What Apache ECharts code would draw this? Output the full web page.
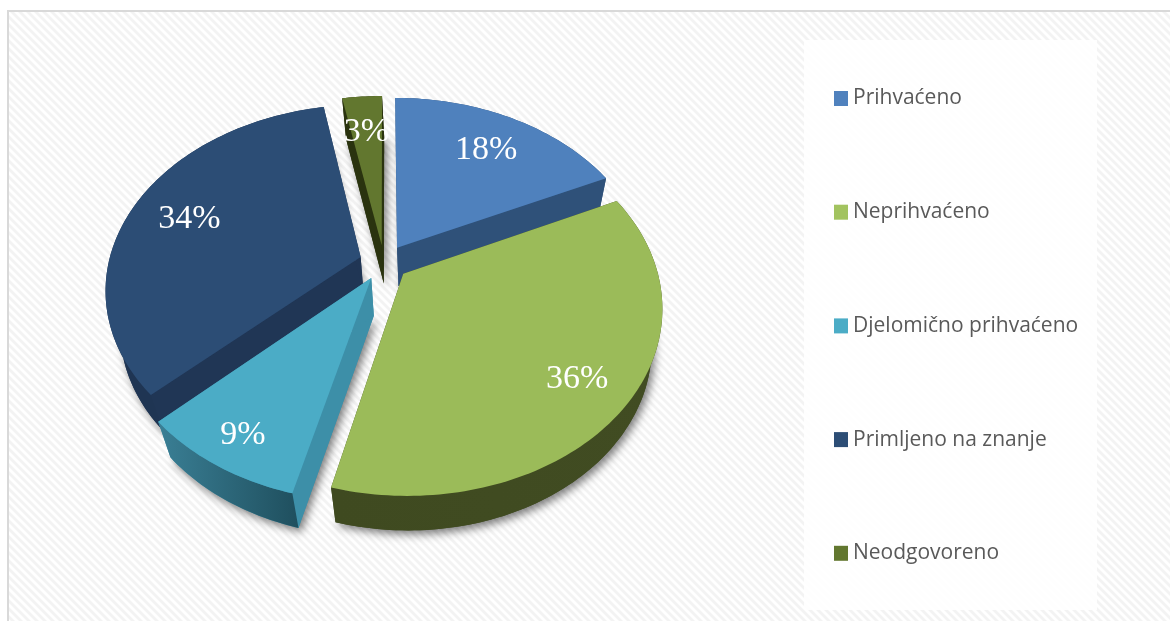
<!DOCTYPE html>
<html>
<head>
<meta charset="utf-8">
<style>html,body{margin:0;padding:0;background:#fff}#c{width:1170px;height:621px}</style>
<script src="https://cdn.jsdelivr.net/npm/echarts@6/dist/echarts.min.js"></script>
</head>
<body>
<div id="c"></div>
<script>
const categories = ['Prihvaćeno', 'Neprihvaćeno', 'Djelomično prihvaćeno', 'Primljeno na znanje', 'Neodgovoreno'];
const values = [18, 36, 9, 34, 3];
const topColors = ['#4f81bd', '#9bbb59', '#4bacc6', '#2c4d75', '#62772f'];
const legendColors = ['#4f81bd', '#a2c35f', '#4bacc6', '#2c4d75', '#62772f'];
const cutColors = ['#2f5179', '#3f4a20', '#3d8fa8', '#203655', '#2a330f'];
const rimColorsA = ['#2f5179', '#3f4a20', '#3a7f95', '#1f3553', '#2a330f'];
const rimColorsB = ['#2f5179', '#414c22', '#1f4f5e', '#1f3553', '#2a330f'];
const labelReach = [0.75, 0.8, 0.85, 0.75, 0.75];
const paintOrder = [4, 0, 3, 2, 1];

const view = {cx: 384, cy: 262.5, bx: 252, ay: 180, p: 0.17, explode: 0.098, depth: 38, sx: 0.955, sy: 0.985, lowShift: 2, labelDrop: 2};
const total = values.reduce((a, b) => a + b, 0);
const starts = [];
values.reduce((acc, v, i) => { starts[i] = acc; return acc + v; }, 0);

function rad(i, f) { return (starts[i] + f * values[i]) / total * Math.PI * 2; }
function project(i, r, a) {
  const m = rad(i, 0.5);
  const u = r * Math.sin(a) + view.explode * Math.sin(m);
  const v = r * Math.cos(a) + view.explode * Math.cos(m);
  const k = 1 + view.p * v;
  return [view.cx + view.bx * u / k, view.cy - view.ay * v / k];
}
function lower(pt) {
  return [view.cx + view.lowShift + (pt[0] - view.cx) * view.sx, view.cy + view.depth + (pt[1] - view.cy) * view.sy];
}
function rim(i) {
  const n = Math.max(12, Math.round(values[i] * 3)), out = [];
  for (let j = 0; j <= n; j++) out.push(project(i, 1, rad(i, j / n)));
  return out;
}
function sliceItem(i) {
  const apex = project(i, 0, 0), arc = rim(i);
  const low = arc.map(lower), lowApex = lower(apex);
  const poly = (points, style) => ({type: 'polygon', shape: {points}, style});
  const children = [];
  children.push(poly([lowApex].concat(low), {fill: cutColors[i], shadowBlur: 9, shadowOffsetX: 3, shadowOffsetY: 4, shadowColor: 'rgba(0,0,0,0.5)'}));
  children.push(poly([apex, arc[0], low[0], lowApex], {fill: cutColors[i]}));
  children.push(poly([apex, arc[arc.length - 1], low[low.length - 1], lowApex], {fill: cutColors[i]}));
  children.push(poly(arc.concat(low.slice().reverse()), {fill: {type: 'linear', x: 0, y: 0, x2: 1, y2: 0, colorStops: [{offset: 0, color: rimColorsA[i]}, {offset: 1, color: rimColorsB[i]}]}}));
  children.push(poly([apex].concat(arc), {fill: topColors[i]}));
  const lp = project(i, labelReach[i], rad(i, 0.5));
  children.push({type: 'text', z2: 100, style: {text: values[i] + '%', x: lp[0], y: lp[1] + view.labelDrop, align: 'center', verticalAlign: 'middle', fill: '#fff', font: '34px "Liberation Serif", serif'}});
  return {type: 'group', children};
}

const tile = document.createElement('canvas');
tile.width = tile.height = 8;
(function () {
  const g = tile.getContext('2d');
  g.fillStyle = '#ffffff'; g.fillRect(0, 0, 8, 8);
  g.strokeStyle = '#f3f3f3'; g.lineWidth = 2.8;
  [[-8, -8, 8, 8], [0, -8, 16, 8], [-8, 0, 8, 16]].forEach(s => { g.beginPath(); g.moveTo(s[0], s[1]); g.lineTo(s[2], s[3]); g.stroke(); });
})();

const chart = echarts.init(document.getElementById('c'), null, {renderer: 'canvas'});
chart.setOption({
  animation: false,
  backgroundColor: '#ffffff',
  graphic: [
    {type: 'rect', z: -10, shape: {x: 8, y: 11, width: 1170, height: 630}, style: {fill: {image: tile, repeat: 'repeat'}, stroke: '#d9d9d9', lineWidth: 2}},
    {type: 'rect', z: -9, shape: {x: 804, y: 40, width: 293, height: 570}, style: {fill: 'rgba(255,255,255,0.85)'}}
  ],
  legend: {
    orient: 'vertical', left: 829, top: 83, icon: 'rect', itemWidth: 14, itemHeight: 15, itemGap: 92.7,
    data: categories, selectedMode: false,
    textStyle: {color: '#595959', fontFamily: '"Open Sans"', fontSize: 21, height: 21, lineHeight: 21}
  },
  series: paintOrder.map((i, order) => ({
    type: 'custom', name: categories[i], coordinateSystem: 'none', silent: true, z: 2 + order,
    itemStyle: {color: legendColors[i]},
    data: [[values[i]]],
    renderItem: () => sliceItem(i)
  }))
});
</script>
</body>
</html>
